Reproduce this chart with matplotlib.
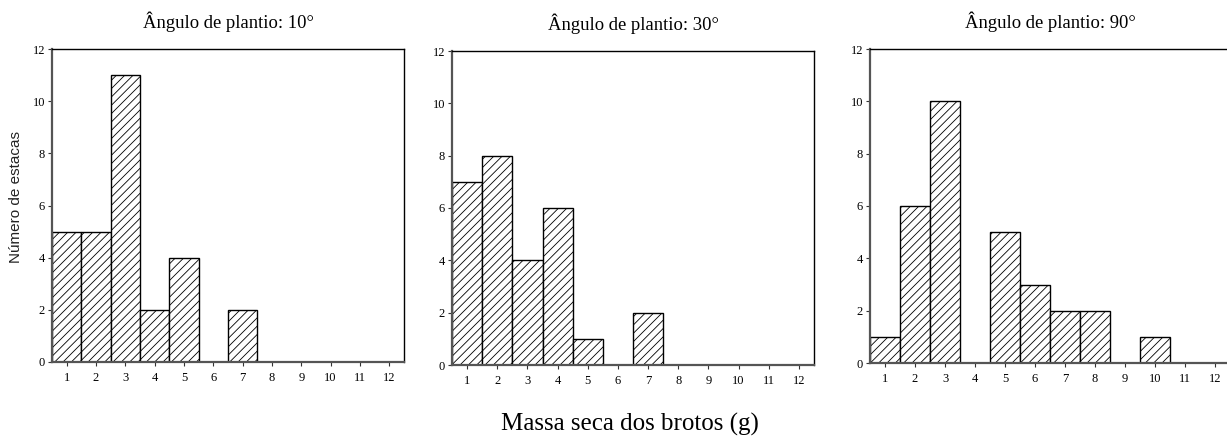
import matplotlib
matplotlib.use("Agg")
import matplotlib.pyplot as plt
import numpy as np

# Data
classes = list(range(1, 13))
titles = ["Ângulo de plantio: 10°", "Ângulo de plantio: 30°", "Ângulo de plantio: 90°"]
counts_10 = [5, 5, 11, 2, 4, 0, 2, 0, 0, 0, 0, 0]
counts_30 = [7, 8, 4, 6, 1, 0, 2, 0, 0, 0, 0, 0]
counts_90 = [1, 6, 10, 0, 5, 3, 2, 2, 0, 1, 0, 0]
yticks = [0, 2, 4, 6, 8, 10, 12]
series = [counts_10, counts_30, counts_90]

plt.rcParams['hatch.linewidth'] = 0.6
W, H = 1227, 437
fig = plt.figure(figsize=(W / 100, H / 100), dpi=100)

# axes boxes in pixels: left, right, top, bottom
boxes = [(52, 404, 49, 362), (452, 814, 51, 365), (870, 1230, 49, 363)]
serif = "Liberation Serif"

for i, (counts, title, (l, r, t, b)) in enumerate(zip(series, titles, boxes)):
    ax = fig.add_axes([l / W, 1 - b / H, (r - l) / W, (b - t) / H])
    x = np.array(classes)
    c = np.array(counts)
    m = c > 0
    ax.bar(x[m], c[m], width=1.0, color="white", edgecolor="black",
           linewidth=1.0, hatch="////", zorder=2)
    ax.set_xlim(0.5, 12.5)
    ax.set_ylim(0, 12)
    ax.set_xticks(classes)
    ax.set_yticks(yticks)
    ax.tick_params(axis="both", direction="out", length=3, width=0.8,
                   labelsize=9, pad=2, colors="#333333")
    ax.tick_params(axis="x", pad=4)
    for lab in ax.get_xticklabels() + ax.get_yticklabels():
        lab.set_fontfamily(serif)
        lab.set_color("black")
    for side in ("top", "right"):
        ax.spines[side].set_linewidth(1.0)
        ax.spines[side].set_color("black")
    for side in ("left", "bottom"):
        ax.spines[side].set_linewidth(1.6)
        ax.spines[side].set_color("#555555")
    ax.set_title(title, fontfamily=serif, fontsize=13.4, pad=15)
    if i == 0:
        ax.set_ylabel("Número de estacas", fontfamily="Liberation Sans",
                      fontsize=11, color="#222222")
        ax.yaxis.set_label_coords(-0.082, 0.527)

fig.text(630 / W, 1 - 424 / H, "Massa seca dos brotos (g)", ha="center",
         va="center", fontfamily=serif, fontsize=18)

fig.savefig("out.png", dpi=100)
